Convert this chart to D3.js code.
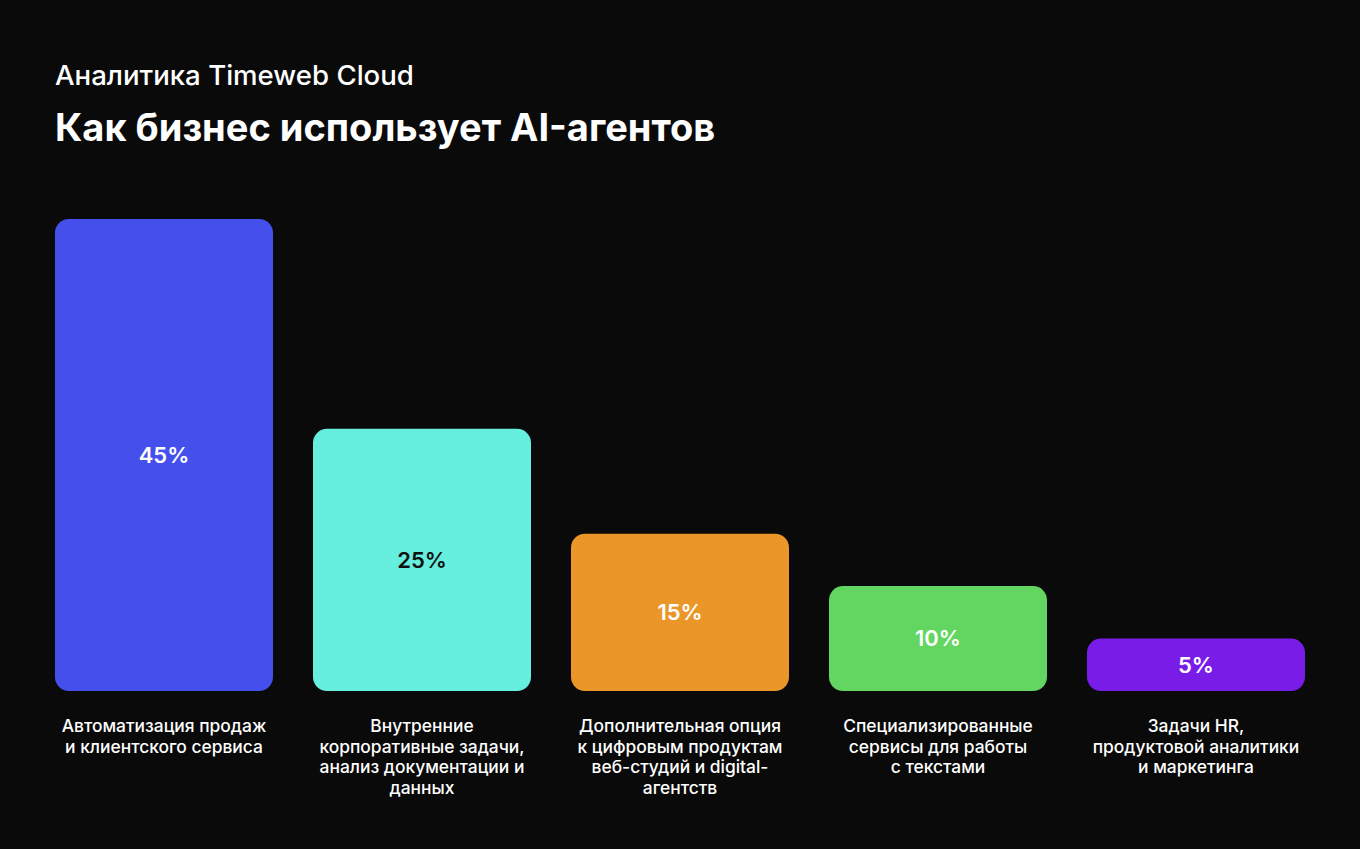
<!DOCTYPE html>
<html><head><meta charset="utf-8">
<script src="https://cdn.jsdelivr.net/npm/d3@7"></script>
<style>
html,body{margin:0;padding:0;background:#0a0a0a;}
svg{display:block;}
</style></head>
<body>
<script>
const categories = [
  ["Автоматизация продаж", "и клиентского сервиса"],
  ["Внутренние", "корпоративные задачи,", "анализ документации и", "данных"],
  ["Дополнительная опция", "к цифровым продуктам", "веб-студий и digital-", "агентств"],
  ["Специализированные", "сервисы для работы", "с текстами"],
  ["Задачи HR,", "продуктовой аналитики", "и маркетинга"]
];
const values = [45, 25, 15, 10, 5];
const colors = ["#4550ec", "#66eedf", "#eb9628", "#62d660", "#7a1ce8"];
const labelColors = ["#ffffff", "#111111", "#ffffff", "#ffffff", "#ffffff"];
const subtitle = "Аналитика Timeweb Cloud";
const title = "Как бизнес использует AI-агентов";

const W = 1360, H = 849;
const font = "Inter, 'Noto Sans', sans-serif";
const svg = d3.select("body").append("svg").attr("width", W).attr("height", H);
svg.append("rect").attr("width", W).attr("height", H).attr("fill", "#0a0a0a");

svg.append("text").attr("x", 55).attr("y", 85).attr("fill", "#fff")
  .attr("font-family", font).attr("font-size", 27.6).attr("font-weight", 500)
  .text(subtitle);
svg.append("text").attr("x", 55).attr("y", 141).attr("fill", "#fff")
  .attr("font-family", font).attr("font-size", 38).attr("font-weight", 700)
  .text(title);

const x = d3.scaleBand().domain(d3.range(values.length)).range([35, 1325]).paddingInner(40/258).paddingOuter(20/258);
const y = d3.scaleLinear().domain([0, 45]).range([691, 219]);

const g = svg.append("g");
values.forEach((v, i) => {
  const x0 = x(i), w = x.bandwidth(), y0 = y(v), h = y(0) - y(v);
  g.append("rect").attr("x", x0).attr("y", y0).attr("width", w).attr("height", h)
    .attr("rx", 14).attr("ry", 14).attr("fill", colors[i]);
  g.append("text").attr("x", x0 + w/2).attr("y", y0 + h/2).attr("dy", "0.36em")
    .attr("text-anchor", "middle").attr("fill", labelColors[i])
    .attr("font-family", font).attr("font-size", 22).attr("font-weight", 600)
    .text(v + "%");
  const t = g.append("text").attr("text-anchor", "middle").attr("fill", "#fff")
    .attr("font-family", font).attr("font-size", 17.4).attr("font-weight", 500);
  categories[i].forEach((line, j) => {
    t.append("tspan").attr("x", x0 + w/2).attr("y", 732 + j*20.5).text(line);
  });
});
</script>
</body></html>
